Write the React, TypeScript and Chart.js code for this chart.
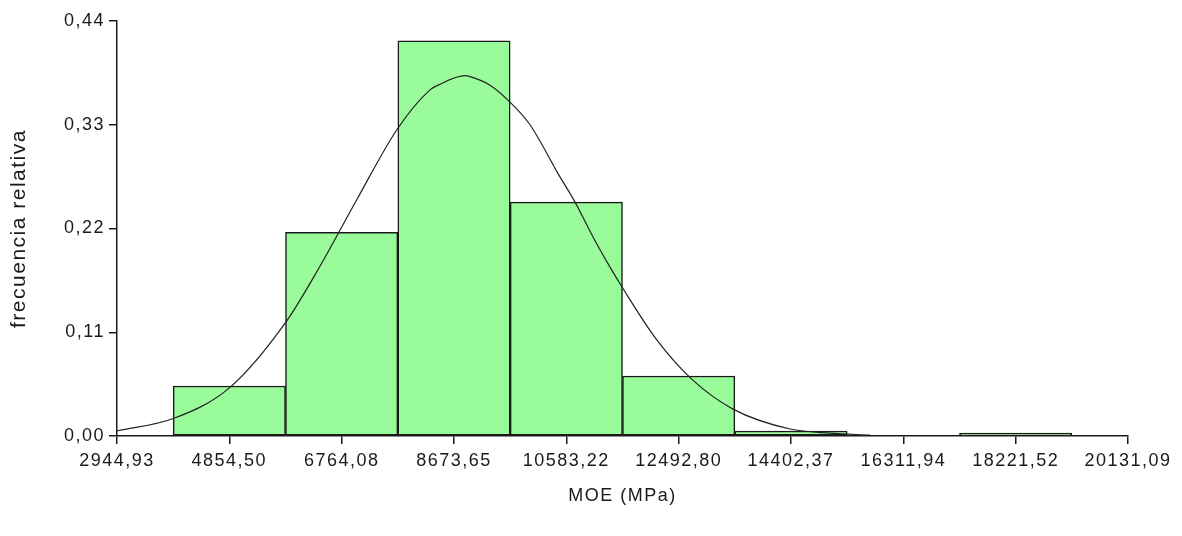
import React, { useEffect, useRef } from "react";
import { Chart, registerables } from "chart.js";

Chart.register(...registerables);

// Histogram bins (class centres) and relative frequencies
const binCenters = [4854.5, 6764.08, 8673.65, 10583.22, 12492.8, 14402.37, 16311.94, 18221.52];
const binFreq = [0.053, 0.216, 0.419, 0.248, 0.0636, 0.0053, 0, 0.003];

// Fitted normal curve
const curveX = [2944.93, 3914, 4855, 5818, 6395, 7025, 7705, 8266, 8436, 8861, 8946, 9286, 9626, 9966, 10187, 10425, 10731, 11037, 11326, 11530, 12108, 12720, 13417, 14386, 15066, 15746];
const curveY = [0.0053, 0.0188, 0.051, 0.121, 0.18, 0.251, 0.325, 0.367, 0.373, 0.382, 0.381, 0.372, 0.354, 0.33, 0.307, 0.28, 0.248, 0.211, 0.179, 0.158, 0.103, 0.06, 0.0285, 0.0074, 0.003, 0.001];

// Axis ticks
const xTicks = [2944.93, 4854.5, 6764.08, 8673.65, 10583.22, 12492.8, 14402.37, 16311.94, 18221.52, 20131.09];
const xTickLabels = ["2944,93", "4854,50", "6764,08", "8673,65", "10583,22", "12492,80", "14402,37", "16311,94", "18221,52", "20131,09"];
const yTicks = [0, 0.11, 0.22, 0.33, 0.44];
const yTickLabels = ["0,00", "0,11", "0,22", "0,33", "0,44"];

const xTitle = "MOE (MPa)";
const yTitle = "frecuencia relativa";

const FONT = "'Liberation Sans', Arial, sans-serif";
const INK = "#1a1a1a";

const spacingPlugin = {
  id: "letterSpacing",
  beforeDraw(chart: any) {
    chart.ctx.save();
    chart.ctx.letterSpacing = "1.5px";
  },
  afterDraw(chart: any) {
    chart.ctx.restore();
  },
};

export default function App() {
  const ref = useRef<HTMLCanvasElement | null>(null);

  useEffect(() => {
    if (!ref.current) return;
    const chart = new Chart(ref.current, {
      type: "bar",
      data: {
        datasets: [
          {
            type: "line",
            data: curveX.map((x, i) => ({ x, y: curveY[i] })),
            borderColor: "#222",
            borderWidth: 1.2,
            pointRadius: 0,
            cubicInterpolationMode: "monotone",
            fill: false,
            order: 0,
          } as any,
          {
            type: "bar",
            data: binCenters.map((x, i) => ({ x, y: binFreq[i] })),
            backgroundColor: "#99FB99",
            borderColor: "#1a1a1a",
            borderWidth: 1.5,
            borderSkipped: false,
            barPercentage: 1,
            categoryPercentage: 1,
            order: 1,
          } as any,
        ],
      },
      options: {
        responsive: false,
        animation: false,
        devicePixelRatio: 1,
        layout: { padding: { top: 21, right: 54, bottom: 0, left: 0 } },
        plugins: { legend: { display: false }, tooltip: { enabled: false } },
        scales: {
          x: {
            type: "linear",
            min: xTicks[0],
            max: xTicks[xTicks.length - 1],
            offset: false,
            afterBuildTicks: (s: any) => {
              s.ticks = xTicks.map((v) => ({ value: v }));
            },
            afterFit: (s: any) => {
              s.height = 100;
            },
            ticks: {
              autoSkip: false,
              maxRotation: 0,
              padding: 6,
              color: INK,
              font: { family: FONT, size: 18 },
              callback: (_v: any, i: number) => xTickLabels[i],
            },
            grid: { display: true, drawOnChartArea: false, drawTicks: true, tickLength: 8, color: INK, lineWidth: 1.5, offset: false },
            border: { display: true, color: INK, width: 1.5 },
            title: {
              display: true,
              text: xTitle,
              color: INK,
              font: { family: FONT, size: 18 },
              padding: { top: 0, bottom: 29 },
            },
          },
          y: {
            type: "linear",
            min: yTicks[0],
            max: yTicks[yTicks.length - 1],
            afterBuildTicks: (s: any) => {
              s.ticks = yTicks.map((v) => ({ value: v }));
            },
            afterFit: (s: any) => {
              s.width = 117;
            },
            ticks: {
              padding: 4,
              color: INK,
              font: { family: FONT, size: 18 },
              callback: (_v: any, i: number) => yTickLabels[i],
            },
            grid: { display: true, drawOnChartArea: false, drawTicks: true, tickLength: 8, color: INK, lineWidth: 1.5 },
            border: { display: true, color: INK, width: 1.5 },
            title: {
              display: true,
              text: yTitle,
              color: INK,
              font: { family: FONT, size: 21 },
              padding: { top: 7, bottom: 0 },
            },
          },
        },
      },
      plugins: [spacingPlugin],
    });
    return () => chart.destroy();
  }, []);

  return (
    <div style={{ position: "absolute", left: 0, top: 0, width: 1182, height: 536, background: "#fff" }}>
      <canvas ref={ref} width={1182} height={536} />
    </div>
  );
}
